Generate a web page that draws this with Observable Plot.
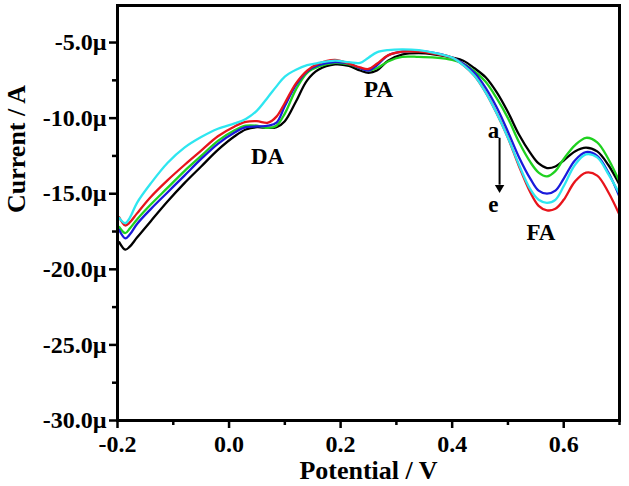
<!DOCTYPE html>
<html>
<head>
<meta charset="utf-8">
<script src="https://cdn.jsdelivr.net/npm/d3@7"></script>
<script src="https://cdn.jsdelivr.net/npm/@observablehq/plot@0.6"></script>
<style>
  html, body { margin: 0; padding: 0; background: #fff; }
  #chart { width: 629px; height: 486px; }
</style>
</head>
<body>
<div id="chart"></div>
<script>
// Potential (V)
const potential = [-0.197, -0.186, -0.178, -0.165, -0.14, -0.11, -0.08, -0.05, -0.02, 0.01, 0.03, 0.05, 0.07, 0.085, 0.10, 0.12, 0.14, 0.16, 0.19, 0.215, 0.235, 0.25, 0.265, 0.285, 0.31, 0.34, 0.37, 0.40, 0.42, 0.44, 0.46, 0.48, 0.50, 0.52, 0.54, 0.555, 0.57, 0.585, 0.60, 0.62, 0.64, 0.66, 0.68, 0.70];
// Current (µA) for curves a..e
const curveA = [-18.2, -18.7, -18.5, -17.9, -16.8, -15.5, -14.3, -13.2, -12.1, -11.2, -10.75, -10.6, -10.65, -10.6, -10.2, -8.9, -7.5, -6.8, -6.45, -6.55, -6.85, -7.0, -6.85, -6.2, -5.8, -5.7, -5.8, -6.0, -6.2, -6.7, -7.3, -8.3, -9.6, -11.1, -12.3, -13.0, -13.3, -13.2, -12.8, -12.2, -11.95, -12.2, -13.1, -14.4];
const curveB = [-17.2, -17.6, -17.3, -16.7, -15.7, -14.6, -13.5, -12.5, -11.5, -10.8, -10.5, -10.5, -10.65, -10.5, -9.7, -8.1, -7.0, -6.6, -6.35, -6.45, -6.7, -6.85, -6.7, -6.25, -5.95, -5.95, -6.0, -6.15, -6.4, -6.9, -7.6, -8.7, -10.0, -11.6, -12.9, -13.6, -13.85, -13.5, -12.7, -11.8, -11.3, -11.6, -12.7, -14.2];
const curveC = [-17.4, -17.95, -17.7, -17.0, -16.0, -14.9, -13.8, -12.7, -11.7, -10.95, -10.6, -10.55, -10.5, -10.3, -9.2, -7.8, -6.9, -6.5, -6.3, -6.4, -6.7, -6.85, -6.5, -5.85, -5.6, -5.55, -5.7, -6.0, -6.4, -7.0, -8.0, -9.3, -10.9, -12.6, -14.0, -14.8, -15.0, -14.8, -14.0, -12.8, -12.25, -12.5, -13.6, -15.2];
const curveD = [-16.6, -16.95, -16.6, -15.6, -14.3, -12.95, -11.95, -11.25, -10.7, -10.35, -10.05, -9.5, -8.6, -7.9, -7.25, -6.8, -6.5, -6.35, -6.2, -6.3, -6.35, -6.0, -5.65, -5.5, -5.45, -5.5, -5.7, -6.0, -6.5, -7.2, -8.3, -9.7, -11.3, -13.1, -14.7, -15.4, -15.6, -15.4, -14.5, -13.1, -12.4, -12.6, -13.7, -15.0];
const curveE = [-16.55, -17.1, -16.9, -16.3, -15.2, -14.1, -13.1, -12.15, -11.2, -10.55, -10.25, -10.2, -10.3, -9.9, -9.0, -7.7, -6.85, -6.4, -6.15, -6.4, -6.65, -6.75, -6.4, -5.85, -5.6, -5.6, -5.75, -6.0, -6.5, -7.2, -8.3, -9.7, -11.3, -13.2, -14.9, -15.8, -16.1, -16.0, -15.4, -14.2, -13.6, -13.8, -14.9, -16.4];

const seriesNames = ["a", "b", "c", "d", "e"];
const seriesColors = ["#000000", "#1fd11f", "#1a1adb", "#2ee6f0", "#e8141b"];
const drawOrder = ["a", "b", "c", "e", "d"];

// Tick values
const xMajor = [-0.2, 0.0, 0.2, 0.4, 0.6];
const xMinor = [-0.1, 0.1, 0.3, 0.5, 0.7];
const yMajor = [-30, -25, -20, -15, -10, -5];
const yMinor = [-27.5, -22.5, -17.5, -12.5, -7.5];

// Annotations (data coordinates)
const peakLabels = ["DA", "PA", "FA", "a", "e"];
const peakX = [0.069, 0.268, 0.559, 0.474, 0.474];
const peakY = [-12.55, -8.1, -17.55, -10.85, -15.7];
const arrowX = [0.485];
const arrowY1 = [-11.3];
const arrowY2 = [-14.4];

const curves = {a: curveA, b: curveB, c: curveC, d: curveD, e: curveE};
const colorOf = Object.fromEntries(seriesNames.map((s, i) => [s, seriesColors[i]]));
const lineMarks = drawOrder.map(s =>
  Plot.line(potential.map((x, i) => ({x, y: curves[s][i]})), {
    x: "x", y: "y", stroke: colorOf[s], strokeWidth: 2.3, curve: "catmull-rom"
  })
);
const labels = peakLabels.map((t, i) => ({t, x: peakX[i], y: peakY[i]}));
const arrow = arrowX.map((x, i) => ({x, y1: arrowY1[i], y2: arrowY2[i]}));

const font = "'Liberation Serif', 'Times New Roman', serif";

const chart = Plot.plot({
  width: 629,
  height: 486,
  marginLeft: 117,
  marginRight: 10,
  marginTop: 5,
  marginBottom: 66,
  style: {fontFamily: font, fontWeight: "bold", background: "white", color: "black"},
  x: {domain: [-0.2, 0.7]},
  y: {domain: [-30, -2.55]},
  marks: [
    ...lineMarks,
    Plot.link(arrow, {x1: "x", x2: "x", y1: "y1", y2: "y2", stroke: "black", strokeWidth: 2}),
    Plot.dot(arrow, {x: "x", y: "y2", symbol: "triangle", r: 3.5, fill: "black", rotate: 180, dy: 3}),
    Plot.text(labels, {x: "x", y: "y", text: "t", fontSize: 23, fontWeight: "bold", fill: "black", lineAnchor: "middle"}),
    Plot.axisX(xMajor, {tickSize: 8, tickPadding: 6, strokeWidth: 2.5, fontSize: 24, fontWeight: "bold", tickFormat: d => d.toFixed(1), label: null}),
    Plot.axisX(xMinor, {tickSize: 5, strokeWidth: 2.5, tickFormat: () => "", label: null}),
    Plot.axisY(yMajor, {tickSize: 8, tickPadding: 3, strokeWidth: 2.5, fontSize: 24, fontWeight: "bold", tickFormat: d => d.toFixed(1) + "µ", label: null}),
    Plot.axisY(yMinor, {tickSize: 5, strokeWidth: 2.5, tickFormat: () => "", label: null}),
    Plot.frame({stroke: "black", strokeWidth: 3}),
    Plot.text(["Current / A"], {frameAnchor: "left", dx: -101, rotate: -90, fontSize: 26, fontWeight: "bold", fill: "black", lineAnchor: "middle"}),
    Plot.text(["Potential / V"], {frameAnchor: "bottom", dy: 50, fontSize: 26, fontWeight: "bold", fill: "black", lineAnchor: "middle"})
  ]
});
document.getElementById("chart").appendChild(chart);
</script>
</body>
</html>
